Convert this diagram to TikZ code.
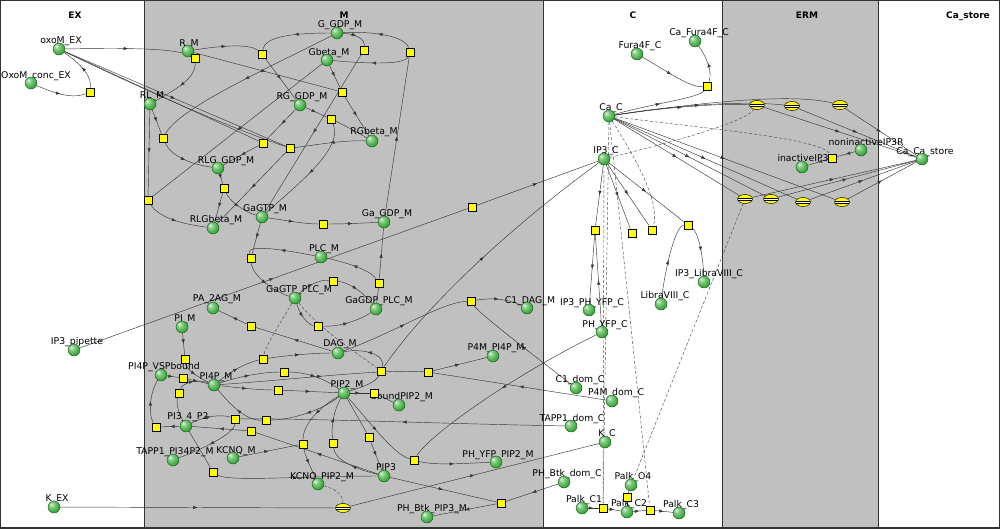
\documentclass[tikz,border=0pt]{standalone}
\usepackage{fontspec}
\setmainfont{DejaVu Sans}
\usetikzlibrary{arrows.meta,decorations.markings,shapes.geometric}
\definecolor{gbg}{RGB}{192,192,192}
\definecolor{spg}{RGB}{60,170,60}
\definecolor{spd}{RGB}{20,90,20}
\definecolor{yel}{RGB}{255,255,0}
\pgfdeclareradialshading{sphere}{\pgfpoint{-12bp}{12bp}}{color(0bp)=(spg!15!white); color(10bp)=(spg!60!white); color(26bp)=(spg); color(42bp)=(spg!75!black); color(60bp)=(spg!55!black)}
\pgfdeclarelayer{bg}\pgfdeclarelayer{edges}\pgfsetlayers{bg,edges,main}
\begin{document}
\begin{tikzpicture}[x=1pt,y=-1pt,
 spc/.style={circle, minimum size=12pt, inner sep=0pt, shading=sphere, draw=spd, line width=0.4pt},
 sqr/.style={rectangle, minimum size=8.5pt, inner sep=0pt, fill=yel, draw=black, line width=0.45pt},
 chn/.style={ellipse, minimum width=15pt, minimum height=9pt, inner sep=0pt, fill=yel, draw=black, line width=0.45pt,
   path picture={\fill[white] ([yshift=-1.3pt]path picture bounding box.west) rectangle ([yshift=1.3pt]path picture bounding box.east);
     \draw[line width=0.4pt] ([yshift=-1.3pt]path picture bounding box.west) -- ([yshift=-1.3pt]path picture bounding box.east)
       ([yshift=1.3pt]path picture bounding box.west) -- ([yshift=1.3pt]path picture bounding box.east);}},
 lbl/.style={anchor=base, inner sep=0pt, font=\fontsize{9.3}{10}\selectfont},
 hdr/.style={anchor=base, inner sep=0pt, font=\bfseries\fontsize{9}{10}\selectfont},
 ed/.style={draw=black!78, line width=0.45pt},
 fw/.style={ed, postaction={decorate}, decoration={markings, mark=at position 0.5 with {\arrow{Latex[length=4.5pt,width=3.4pt]}}}},
 dsh/.style={draw=black!70, line width=0.45pt, dash pattern=on 3pt off 2pt}
]
\useasboundingbox (0,0) rectangle (1000,528);
\begin{pgfonlayer}{bg}
 \fill[white] (0,0) rectangle (1000,528);
 \fill[gbg] (144,0) rectangle (543,528);
 \fill[gbg] (722,0) rectangle (878,528);
 \draw[black!80, line width=0.9pt] (144,0) -- (144,528) (543,0) -- (543,528) (722,0) -- (722,528) (878,0) -- (878,528);
 \draw[black!80, line width=1.2pt] (0,0) rectangle (1000,528);
\end{pgfonlayer}
% headers
\node[hdr] (hEX) at (75,18) {EX};
\node[hdr] (hM) at (344,18) {M};
\node[hdr] (hC) at (633,18) {C};
\node[hdr] (hERM) at (807,18) {ERM};
\node[hdr] (hCas) at (968,18) {Ca\_store};
% labels
\node[lbl] (l1) at (61,43) {oxoM\_EX};
\node[lbl] (l2) at (36,78) {OxoM\_conc\_EX};
\node[lbl] (l3) at (189,46) {R\_M};
\node[lbl] (l4) at (152,98) {RL\_M};
\node[lbl] (l5) at (340,27) {G\_GDP\_M};
\node[lbl] (l6) at (329,55) {Gbeta\_M};
\node[lbl] (l7) at (302,99) {RG\_GDP\_M};
\node[lbl] (l8) at (374,134) {RGbeta\_M};
\node[lbl] (l9) at (226,163) {RLG\_GDP\_M};
\node[lbl] (l10) at (216,222) {RLGbeta\_M};
\node[lbl] (l11) at (265,211) {GaGTP\_M};
\node[lbl] (l12) at (387,216) {Ga\_GDP\_M};
\node[lbl] (l13) at (324,251) {PLC\_M};
\node[lbl] (l14) at (299,292) {GaGTP\_PLC\_M};
\node[lbl] (l15) at (379,303) {GaGDP\_PLC\_M};
\node[lbl] (l16) at (217,301) {PA\_2AG\_M};
\node[lbl] (l17) at (185,321) {PI\_M};
\node[lbl] (l18) at (77,344) {IP3\_pipette};
\node[lbl] (l19) at (164,369) {PI4P\_VSPbound};
\node[lbl] (l20) at (216,379) {PI4P\_M};
\node[lbl] (l21) at (340,346) {DAG\_M};
\node[lbl] (l22) at (347,387) {PIP2\_M};
\node[lbl] (l23) at (402,399) {boundPIP2\_M};
\node[lbl] (l24) at (188,419) {PI3\_4\_P2};
\node[lbl] (l25) at (175,454) {TAPP1\_PI34P2\_M};
\node[lbl] (l26) at (236,453) {KCNQ\_M};
\node[lbl] (l27) at (322,479) {KCNQ\_PIP2\_M};
\node[lbl] (l28) at (386,470) {PIP3};
\node[lbl] (l29) at (432,511) {PH\_Btk\_PIP3\_M};
\node[lbl] (l30) at (57,501) {K\_EX};
\node[lbl] (l31) at (530,303) {C1\_DAG\_M};
\node[lbl] (l32) at (496,350) {P4M\_PI4P\_M};
\node[lbl] (l33) at (498,457) {PH\_YFP\_PIP2\_M};
\node[lbl] (l34) at (640,48) {Fura4F\_C};
\node[lbl] (l35) at (699,35) {Ca\_Fura4F\_C};
\node[lbl] (l36) at (611,110) {Ca\_C};
\node[lbl] (l37) at (606,153) {IP3\_C};
\node[lbl] (l38) at (592,305) {IP3\_PH\_YFP\_C};
\node[lbl] (l39) at (605,327) {PH\_YFP\_C};
\node[lbl] (l40) at (665,298) {LibraVIII\_C};
\node[lbl] (l41) at (709,276) {IP3\_LibraVIII\_C};
\node[lbl] (l42) at (580,382) {C1\_dom\_C};
\node[lbl] (l43) at (616,395) {P4M\_dom\_C};
\node[lbl] (l44) at (572,421) {TAPP1\_dom\_C};
\node[lbl] (l45) at (607,436) {K\_C};
\node[lbl] (l46) at (567,476) {PH\_Btk\_dom\_C};
\node[lbl] (l47) at (633,479) {Palk\_O4};
\node[lbl] (l48) at (584,502) {Palk\_C1};
\node[lbl] (l49) at (629,506) {Palk\_C2};
\node[lbl] (l50) at (681,507) {Palk\_C3};
\node[lbl] (l51) at (803,161) {inactiveIP3};
\node[lbl] (l52) at (866,145) {noninactiveIP3R};
\node[lbl] (l53) at (925,154) {Ca\_Ca\_store};
% species
\node[spc] (oxoM) at (59,49) {};
\node[spc] (oxoMc) at (31,83) {};
\node[spc] (RM) at (188,51) {};
\node[spc] (RLM) at (150,104) {};
\node[spc] (GGDP) at (337,33) {};
\node[spc] (Gbeta) at (327,60) {};
\node[spc] (RGGDP) at (300,105) {};
\node[spc] (RGbeta) at (372,141) {};
\node[spc] (RLGGDP) at (218,168) {};
\node[spc] (RLGbeta) at (213,228) {};
\node[spc] (GaGTP) at (262,217) {};
\node[spc] (GaGDP) at (384,222) {};
\node[spc] (PLC) at (321,257) {};
\node[spc] (GaGTPPLC) at (295,298) {};
\node[spc] (GaGDPPLC) at (376,309) {};
\node[spc] (PA2AG) at (213,308) {};
\node[spc] (PI) at (182,327) {};
\node[spc] (IP3pip) at (74,350) {};
\node[spc] (PI4PVSP) at (161,375) {};
\node[spc] (PI4P) at (214,385) {};
\node[spc] (DAG) at (338,353) {};
\node[spc] (PIP2) at (344,393) {};
\node[spc] (bPIP2) at (399,405) {};
\node[spc] (PI34P2) at (186,426) {};
\node[spc] (TAPP1M) at (173,460) {};
\node[spc] (KCNQ) at (233,458) {};
\node[spc] (KCNQPIP2) at (318,484) {};
\node[spc] (PIP3) at (384,476) {};
\node[spc] (PHBtkM) at (427,517) {};
\node[spc] (KEX) at (54,507) {};
\node[spc] (C1DAG) at (527,308) {};
\node[spc] (P4MPI4P) at (493,356) {};
\node[spc] (PHYFPM) at (496,462) {};
\node[spc] (Fura) at (637,54) {};
\node[spc] (CaFura) at (695,41) {};
\node[spc] (CaC) at (609,116) {};
\node[spc] (IP3C) at (604,159) {};
\node[spc] (IP3PH) at (589,310) {};
\node[spc] (PHYFPC) at (602,332) {};
\node[spc] (Libra) at (661,304) {};
\node[spc] (IP3Libra) at (704,282) {};
\node[spc] (C1dom) at (576,388) {};
\node[spc] (P4Mdom) at (612,401) {};
\node[spc] (TAPPdom) at (571,426) {};
\node[spc] (KC) at (605,442) {};
\node[spc] (PHBtkdom) at (564,482) {};
\node[spc] (PalkO4) at (631,485) {};
\node[spc] (PalkC1) at (582,508) {};
\node[spc] (PalkC2) at (627,512) {};
\node[spc] (PalkC3) at (679,513) {};
\node[spc] (inIP3) at (802,167) {};
\node[spc] (nonIP3R) at (861,150) {};
\node[spc] (CaStore) at (922,159) {};
% reaction squares
\node[sqr] (sq0) at (90,92) {};
\node[sqr] (Sa) at (262,54) {};
\node[sqr] (Sb) at (195,58) {};
\node[sqr] (Sc) at (364,50) {};
\node[sqr] (Sd) at (410,52) {};
\node[sqr] (Se) at (342,92) {};
\node[sqr] (Sf) at (331,119) {};
\node[sqr] (Sg) at (263,143) {};
\node[sqr] (Sh) at (290,148) {};
\node[sqr] (Si) at (163,138) {};
\node[sqr] (Sl) at (148,200) {};
\node[sqr] (Sm) at (224,188) {};
\node[sqr] (Sn) at (251,258) {};
\node[sqr] (So) at (323,224) {};
\node[sqr] (Sp) at (472,207) {};
\node[sqr] (Sq) at (379,283) {};
\node[sqr] (Sr) at (333,281) {};
\node[sqr] (Ss) at (318,326) {};
\node[sqr] (St) at (251,326) {};
\node[sqr] (Su) at (185,359) {};
\node[sqr] (Sv) at (183,378) {};
\node[sqr] (Sw) at (179,393) {};
\node[sqr] (Sx) at (156,427) {};
\node[sqr] (Sy) at (213,472) {};
\node[sqr] (Sz) at (235,419) {};
\node[sqr] (Saa) at (251,431) {};
\node[sqr] (Sab) at (303,444) {};
\node[sqr] (Sac) at (501,503) {};
\node[sqr] (Sad) at (414,460) {};
\node[sqr] (Sae) at (428,372) {};
\node[sqr] (Saf) at (471,301) {};
\node[sqr] (Sag) at (381,371) {};
\node[sqr] (Sah) at (263,359) {};
\node[sqr] (Sai) at (284,372) {};
\node[sqr] (Saj) at (278,390) {};
\node[sqr] (Sak) at (266,420) {};
\node[sqr] (Sal) at (369,437) {};
\node[sqr] (Sam) at (333,443) {};
\node[sqr] (San) at (374,393) {};
\node[sqr] (Sfu) at (707,86) {};
\node[sqr] (Sip) at (832,158) {};
\node[sqr] (Sipa) at (595,230) {};
\node[sqr] (Sipb) at (632,233) {};
\node[sqr] (Sipc) at (652,230) {};
\node[sqr] (Slib) at (688,225) {};
\node[sqr] (Spa) at (603,508) {};
\node[sqr] (Spb) at (650,510) {};
\node[sqr] (Spc) at (627,497) {};
% channels
\node[chn] (Ek) at (343,508) {};
\node[chn] (T1) at (757,105) {};
\node[chn] (T2) at (792,106) {};
\node[chn] (T3) at (840,105) {};
\node[chn] (B1) at (745,199) {};
\node[chn] (B2) at (771,199) {};
\node[chn] (B3) at (803,202) {};
\node[chn] (B4) at (842,202) {};
\begin{pgfonlayer}{edges}
% EX
\path[fw] (oxoMc) .. controls (60,96) and (75,98) .. (sq0);
\path[fw] (sq0) .. controls (92,72) and (72,58) .. (oxoM);
\path[fw] (oxoM) .. controls (130,48) and (175,48) .. (Sb);
\path[ed] (RM) -- (Sb);
\path[fw] (Sb) .. controls (196,78) and (178,88) .. (RLM);
\path[fw] (oxoM) -- (Sg);
\path[fw] (oxoM) -- (Sh);
\path[ed] (oxoM) .. controls (140,88) and (230,128) .. (Sh);
% top M
\path[fw] (RM) .. controls (225,45) and (250,44) .. (Sa);
\path[fw] (GGDP) .. controls (295,33) and (265,36) .. (Sa);
\path[fw] (Sa) -- (RGGDP);
\path[fw] (RM) -- (Se);
\path[fw] (Gbeta) -- (Se);
\path[fw] (Se) -- (RGbeta);
\path[fw] (GGDP) .. controls (260,72) and (180,108) .. (Si);
\path[fw] (Gbeta) -- (Sl);
\path[fw] (RLM) -- (Si);
\path[fw] (Si) .. controls (172,158) and (195,165) .. (RLGGDP);
\path[fw] (RLM) -- (Sl);
\path[fw] (Sl) .. controls (160,220) and (190,225) .. (RLGbeta);
\path[fw] (RGGDP) -- (Sg);
\path[fw] (Sg) -- (RLGGDP);
\path[fw] (RGbeta) .. controls (340,140) and (310,146) .. (Sh);
\path[fw] (Sh) -- (RLGbeta);
\path[fw] (RGGDP) -- (Sf);
\path[ed] (Sf) .. controls (350,128) and (362,135) .. (RGbeta);
\path[fw] (Sf) .. controls (345,150) and (290,190) .. (GaGTP);
\path[fw] (GGDP) .. controls (357,34) and (365,40) .. (Sc);
\path[fw] (Sc) -- (GaGTP);
\path[fw] (Sd) .. controls (405,36) and (372,31) .. (GGDP);
\path[fw] (Sd) .. controls (405,66) and (360,63) .. (Gbeta);
\path[fw] (GaGDP) -- (Sd);
\path[fw] (RLGGDP) -- (Sm);
\path[fw] (Sm) -- (RLGbeta);
\path[fw] (Sm) .. controls (230,202) and (245,212) .. (GaGTP);
\path[fw] (GaGTP) .. controls (290,221) and (305,224) .. (So);
\path[fw] (So) .. controls (345,224) and (365,223) .. (GaGDP);
\path[fw] (GaGTP) -- (Sn);
\path[fw] (PLC) .. controls (280,249) and (246,244) .. (Sn);
\path[fw] (Sn) .. controls (252,276) and (275,292) .. (GaGTPPLC);
\path[ed] (GaGDPPLC) -- (Sq);
\path[fw] (Sq) -- (GaGDP);
\path[fw] (Sq) .. controls (370,270) and (345,262) .. (PLC);
\path[fw] (GaGTPPLC) .. controls (305,287) and (320,279) .. (Sr);
\path[fw] (Sr) .. controls (350,282) and (366,295) .. (GaGDPPLC);
\path[fw] (GaGTPPLC) .. controls (300,315) and (308,325) .. (Ss);
\path[fw] (Ss) .. controls (340,327) and (360,320) .. (GaGDPPLC);
\path[fw] (IP3pip) -- (Sp);
\path[fw] (Sp) -- (IP3C);
\path[fw] (DAG) -- (St);
\path[fw] (St) -- (PA2AG);
% lower M
\path[fw] (PI) -- (Su);
\path[fw] (Su) .. controls (186,370) and (200,378) .. (PI4P);
\path[fw] (PI4PVSP) -- (Sv);
\path[fw] (Sv) -- (PI4P);
\path[ed] (PI34P2) .. controls (178,412) and (176,402) .. (Sw);
\path[fw] (Sw) .. controls (182,384) and (196,378) .. (PI4P);
\path[fw] (PI34P2) -- (Sx);
\path[fw] (Sx) .. controls (148,414) and (150,392) .. (PI4PVSP);
\path[fw] (PI34P2) .. controls (205,416) and (222,414) .. (Sz);
\path[fw] (Sz) .. controls (235,434) and (200,450) .. (TAPP1M);
\path[fw] (TAPPdom) .. controls (450,424) and (300,418) .. (Sz);
\path[fw] (PIP3) -- (Saa);
\path[fw] (Saa) -- (PI34P2);
\path[ed] (PI34P2) -- (Sy);
\path[fw] (Sy) .. controls (228,482) and (300,476) .. (PIP3);
\path[fw] (KCNQ) -- (Sab);
\path[fw] (PIP2) .. controls (318,408) and (303,425) .. (Sab);
\path[fw] (Sab) .. controls (305,456) and (312,470) .. (KCNQPIP2);
\path[dsh] (KCNQPIP2) .. controls (335,489) and (343,494) .. (Ek);
\path[fw] (KEX) -- (Ek);
\path[fw] (Ek) -- (KC);
\path[fw] (PIP3) -- (Sac);
\path[fw] (PHBtkdom) -- (Sac);
\path[fw] (Sac) -- (PHBtkM);
\path[fw] (PIP2) .. controls (372,425) and (395,455) .. (Sad);
\path[fw] (Sad) .. controls (435,466) and (470,463) .. (PHYFPM);
\path[fw] (PHYFPC) .. controls (520,372) and (432,432) .. (Sad);
\path[fw] (PI4P) .. controls (300,379) and (380,369) .. (Sae);
\path[fw] (Sae) -- (P4MPI4P);
\path[fw] (P4Mdom) -- (Sae);
\path[fw] (DAG) .. controls (400,330) and (440,303) .. (Saf);
\path[fw] (Saf) .. controls (495,297) and (510,300) .. (C1DAG);
\path[fw] (C1dom) .. controls (520,345) and (478,312) .. (Saf);
\path[ed] (PIP2) .. controls (365,386) and (376,382) .. (Sag);
\path[fw] (Sag) .. controls (386,354) and (362,348) .. (DAG);
\path[fw] (Sag) .. controls (430,300) and (520,220) .. (IP3C);
\path[dsh] (GaGTPPLC) .. controls (320,330) and (360,355) .. (Sag);
\path[dsh] (GaGTPPLC) .. controls (282,320) and (266,345) .. (Sah);
\path[fw] (PI4P) .. controls (235,368) and (250,362) .. (Sah);
\path[fw] (Sah) .. controls (290,355) and (315,353) .. (DAG);
\path[fw] (PI4P) .. controls (240,376) and (265,372) .. (Sai);
\path[fw] (Sai) .. controls (310,372) and (330,382) .. (PIP2);
\path[fw] (PI4P) .. controls (240,388) and (260,390) .. (Saj);
\path[fw] (Saj) -- (PIP2);
\path[fw] (PIP2) .. controls (322,410) and (292,420) .. (Sak);
\path[fw] (Sak) .. controls (245,421) and (228,402) .. (PI4P);
\path[ed] (PIP2) -- (Sal);
\path[fw] (Sal) -- (PIP3);
\path[fw] (PIP3) .. controls (360,470) and (335,462) .. (Sam);
\path[fw] (Sam) .. controls (331,425) and (334,410) .. (PIP2);
\path[fw] (PIP2) -- (San);
\path[ed] (San) -- (bPIP2);
% C
\path[fw] (Fura) .. controls (665,70) and (690,88) .. (Sfu);
\path[fw] (Sfu) .. controls (713,72) and (706,56) .. (CaFura);
\path[fw] (CaC) .. controls (650,104) and (700,98) .. (Sfu);
\path[fw] (CaC) .. controls (660,108) and (720,103) .. (T1);
\path[fw] (CaC) .. controls (670,106) and (740,100) .. (T2);
\path[ed] (CaC) .. controls (690,104) and (790,92) .. (T3);
\path[fw] (T1) -- (CaStore);
\path[fw] (T2) -- (CaStore);
\path[fw] (T3) -- (CaStore);
\path[fw] (CaC) -- (B1);
\path[fw] (CaC) -- (B2);
\path[fw] (CaC) -- (B3);
\path[fw] (CaC) -- (B4);
\path[fw] (B1) -- (CaStore);
\path[fw] (B2) -- (CaStore);
\path[fw] (B3) -- (CaStore);
\path[fw] (B4) -- (CaStore);
\path[dsh] (CaC) .. controls (700,128) and (820,138) .. (Sip);
\path[fw] (nonIP3R) -- (Sip);
\path[fw] (Sip) -- (inIP3);
\path[dsh] (IP3C) .. controls (680,140) and (745,122) .. (T1);
\path[dsh] (B1) -- (PalkO4);
\path[fw] (IP3C) -- (Sipa);
\path[fw] (Sipa) -- (IP3PH);
\path[fw] (PHYFPC) -- (Sipa);
\path[fw] (IP3C) -- (Sipb);
\path[fw] (IP3C) -- (Sipc);
\path[dsh] (CaC) .. controls (640,165) and (660,205) .. (Sipc);
\path[fw] (IP3C) -- (Slib);
\path[fw] (Slib) .. controls (698,232) and (703,255) .. (IP3Libra);
\path[fw] (Libra) .. controls (665,270) and (675,226) .. (Slib);
\path[dsh] (IP3C) -- (Spa);
\path[dsh] (CaC) -- (Spa);
\path[dsh] (CaC) -- (Spb);
\path[fw] (PalkC1) -- (Spa);
\path[fw] (Spa) -- (PalkC2);
\path[fw] (PalkC2) -- (Spb);
\path[fw] (Spb) -- (PalkC3);
\path[ed] (PalkC2) -- (Spc);
\path[fw] (Spc) -- (PalkO4);
\end{pgfonlayer}
\end{tikzpicture}
\end{document}
